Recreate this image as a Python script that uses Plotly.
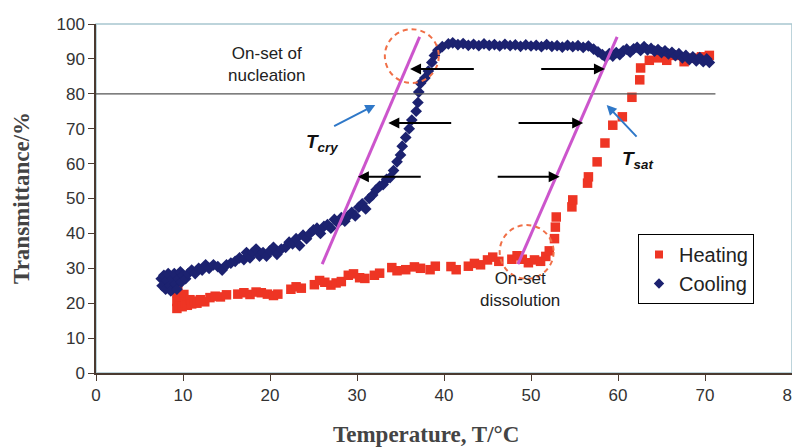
import plotly.graph_objects as go

# ---------------- data ----------------
heat_T = [9.3, 9.3, 9.3, 9.4, 9.6, 9.7, 9.9, 10.1, 10.3, 10.5, 10.8, 11.0, 11.3, 11.6, 12.0, 12.5,
          13.1, 13.7, 14.3, 15.0,
          16.3, 17.0, 17.7, 18.4, 19.0, 19.7, 20.4, 20.9,
          22.4, 23.0, 23.6,
          25.1, 25.7, 26.3, 27.0, 27.6, 28.2,
          29.0, 29.6, 30.3, 30.9, 32.0, 32.6,
          34.0, 34.6, 35.6, 36.6, 37.3, 38.4, 39.0,
          40.8, 41.4, 42.8, 43.5, 44.2, 45.0, 45.6, 46.3,
          47.8, 48.4, 49.0, 49.7, 50.4, 51.1, 51.7, 52.1,
          52.7, 52.8, 52.9, 54.7, 54.8, 56.5, 56.6, 57.6, 58.5, 59.4, 60.5, 61.6,
          62.5, 62.6, 63.6, 64.6, 65.6, 66.6, 67.6, 68.6, 69.6, 70.5]
heat_Tr = [18.5, 20.5, 23.0, 24.5, 19.2, 21.8, 19.0, 22.5, 20.2, 19.4, 21.0, 19.8, 20.6, 20.0, 21.0, 20.4,
           21.6, 22.0, 21.8, 22.4,
           22.6, 23.0, 22.5, 23.2, 23.0, 22.6, 22.2, 22.6,
           24.0, 24.7, 24.3,
           25.3, 26.5, 26.0, 25.2, 25.8, 26.2,
           28.0, 28.4, 27.3, 27.1, 28.0, 28.6,
           30.2, 29.3, 29.6, 30.4, 30.0, 29.6, 30.6,
           30.5, 29.6, 30.6, 31.4, 31.0, 32.4, 33.2, 32.0,
           32.6, 33.6, 32.6, 31.6, 32.4, 32.0, 33.4, 35.0,
           38.5, 41.8, 44.7, 47.6, 49.6, 54.4, 56.2, 60.5, 65.9, 71.0, 73.4, 79.0,
           84.0, 87.4, 89.6, 90.3, 89.6, 91.0, 89.2, 90.2, 90.6, 91.0]

cool_T = [7.5, 7.6, 7.8, 8.0, 8.1, 8.3, 8.5, 8.6, 8.8, 9.0, 9.1, 9.3, 9.5, 9.7, 9.8, 10.0,
          10.3, 10.6, 11.0, 11.4, 11.8, 12.2, 12.6, 13.0, 13.5, 14.0, 14.5, 15.0, 15.5, 16.0,
          16.5, 17.0, 17.3, 17.7, 18.0, 18.4, 18.8, 19.2, 19.6, 20.0, 20.4, 20.8, 21.3, 21.8,
          22.2, 22.6, 23.0, 23.4, 23.8, 24.2, 24.6, 25.0, 25.4, 25.8, 26.2, 26.6, 27.0, 27.4,
          27.8, 28.2, 28.6, 29.0, 29.4, 29.8, 30.2, 30.6, 31.0, 31.4, 31.8, 32.2, 32.6, 33.0,
          33.4, 33.8, 34.2, 34.6, 35.0, 35.2, 35.6, 36.0, 36.3, 36.8, 37.0, 37.1, 37.3, 37.8,
          38.2, 38.6, 38.9, 39.3, 39.8,
          40.5, 41.0, 41.6, 42.2, 42.8, 43.4, 44.0, 44.6, 45.2, 45.8, 46.4, 47.0, 47.6, 48.2,
          48.8, 49.4, 50.0, 50.6, 51.2, 51.8, 52.4, 53.0, 53.6, 54.2, 54.8, 55.4, 56.0, 56.6,
          57.2, 57.7, 58.2, 58.6, 59.0, 59.4, 59.8, 60.2, 60.6, 61.0, 61.4, 61.8, 62.2, 62.6,
          63.0, 63.4, 63.8, 64.2, 64.6, 65.0, 65.4, 65.8, 66.2, 66.6, 67.0, 67.4, 67.8, 68.2,
          68.6, 69.0, 69.4, 69.8, 70.2, 70.5]
cool_Tr = [27.0, 25.0, 28.0, 24.0, 26.5, 28.5, 25.0, 23.5, 27.0, 28.5, 25.5, 24.0, 27.0, 29.0, 26.0, 28.0,
           27.0, 28.5, 29.5, 28.5, 30.0, 29.5, 31.0, 30.0, 31.0, 30.5, 29.5, 31.0, 31.5, 32.0,
           33.0, 32.5, 34.5, 33.0, 34.5, 35.5, 33.5, 34.5, 33.5, 35.0, 36.0, 34.0, 35.5, 36.0,
           37.5, 37.0, 38.5, 36.5, 39.5, 38.5, 40.0, 41.0, 41.5, 40.0, 42.0, 42.5, 41.5, 44.0,
           43.0, 44.5, 43.5, 45.0, 46.0, 45.0, 47.5, 48.5, 47.0, 50.0, 51.0, 52.5, 53.5, 54.0,
           55.5, 56.0, 58.0, 60.5, 62.5, 65.0, 67.5, 70.0, 72.5, 75.0, 77.5, 80.5, 83.0, 84.5,
           86.5, 89.0, 91.0, 92.5, 93.5,
           94.3, 94.6, 94.1, 94.4, 93.9, 94.2, 93.8, 94.3, 93.9, 94.1, 93.7, 94.2, 93.8, 94.0,
           93.6, 94.0, 93.7, 93.9, 93.5, 94.1, 93.6, 93.8, 93.4, 93.9, 93.5, 93.8, 93.3, 93.7,
           92.8, 92.0, 91.2, 90.5, 91.5, 90.8, 91.8, 91.2, 92.3, 92.8, 91.9, 92.9, 93.3, 92.4,
           93.5, 92.6, 93.0, 92.2, 92.7, 91.8, 92.3, 91.4, 91.9, 90.9, 91.5, 90.3, 91.0, 89.8,
           90.6, 89.4, 90.4, 89.2, 90.0, 89.0]

x_ticks = [0, 10, 20, 30, 40, 50, 60, 70, 80]
y_ticks = [0, 10, 20, 30, 40, 50, 60, 70, 80, 90, 100]

# guide lines (x0, y0, x1, y1)
nucleation_level = 80
tcry_line = [26.0, 31.2, 37.2, 96.3]
tsat_line = [48.5, 31.2, 59.9, 96.3]
circles = [[36.3, 90.8], [49.5, 34.7]]
# arrows: (head_x, head_y, tail_x, tail_y)
black_arrows = [[36.1, 87.1, 43.6, 87.1], [33.6, 71.6, 41.0, 71.6], [30.1, 56.2, 37.5, 56.2],
                [58.5, 87.1, 51.0, 87.1], [56.0, 71.6, 48.4, 71.6], [53.3, 56.2, 46.0, 56.2]]
blue_arrows = [[32.1, 76.8, 27.2, 70.5], [58.7, 76.8, 62.3, 67.3]]

RED = '#EE3524'
NAVY = '#1C2270'
AX = '#4A3A30'

fig = go.Figure()
fig.add_trace(go.Scatter(x=heat_T, y=heat_Tr, mode='markers', name='Heating', showlegend=False,
                         marker=dict(symbol='square', size=9.5, color=RED)))
fig.add_trace(go.Scatter(x=cool_T, y=cool_Tr, mode='markers', name='Cooling', showlegend=False,
                         marker=dict(symbol='diamond', size=9, color=NAVY)))
# legend entries with small symbols
fig.add_trace(go.Scatter(x=[None], y=[None], mode='markers', name='Heating',
                         marker=dict(symbol='square', size=8, color=RED)))
fig.add_trace(go.Scatter(x=[None], y=[None], mode='markers', name='Cooling',
                         marker=dict(symbol='diamond', size=8, color=NAVY)))

shapes = []
shapes.append(dict(type='rect', xref='paper', yref='paper', x0=0, y0=0, x1=1, y1=1,
                   line=dict(color='#A8C6CF', width=1.5), layer='below'))
shapes.append(dict(type='line', xref='x', yref='y', x0=0, x1=71.2, y0=nucleation_level,
                   y1=nucleation_level, line=dict(color='#555555', width=1.2)))
for ln in (tcry_line, tsat_line):
    shapes.append(dict(type='line', xref='x', yref='y', x0=ln[0], y0=ln[1], x1=ln[2], y1=ln[3],
                       line=dict(color='#CC55CC', width=3)))
for cx, cy in circles:
    shapes.append(dict(type='circle', xref='x', yref='y', x0=cx - 3.1, x1=cx + 3.1,
                       y0=cy - 7.7, y1=cy + 7.7,
                       line=dict(color='#F07048', width=2, dash='5px,4px')))

ann = []
for hx, hy, tx, ty in black_arrows:
    ann.append(dict(x=hx, y=hy, ax=tx, ay=ty, xref='x', yref='y', axref='x', ayref='y',
                    text='', showarrow=True, arrowhead=2, arrowsize=1.1, arrowwidth=2,
                    arrowcolor='black'))
for hx, hy, tx, ty in blue_arrows:
    ann.append(dict(x=hx, y=hy, ax=tx, ay=ty, xref='x', yref='y', axref='x', ayref='y',
                    text='', showarrow=True, arrowhead=2, arrowsize=1, arrowwidth=2,
                    arrowcolor='#2F78C8'))
lbl_font = dict(family='Liberation Sans, Arial', size=17, color='#222222')
ann.append(dict(x=19.6, y=88.5, xref='x', yref='y', text='On-set of<br>nucleation',
                showarrow=False, font=lbl_font, align='center'))
ann.append(dict(x=48.7, y=23.8, xref='x', yref='y', text='On-set<br>dissolution',
                showarrow=False, font=lbl_font, align='center'))
ann.append(dict(x=26.0, y=66.0, xref='x', yref='y',
                text='<b><i>T<sub>cry</sub></i></b>', showarrow=False,
                font=dict(family='Liberation Sans, Arial', size=19, color='#111111')))
ann.append(dict(x=62.2, y=61.0, xref='x', yref='y',
                text='<b><i>T<sub>sat</sub></i></b>', showarrow=False,
                font=dict(family='Liberation Sans, Arial', size=19, color='#111111')))
title_font = dict(family='Liberation Serif, Times New Roman', size=23, color='#444444')

# page offset of the figure (default body margin) -> compensate
OFF = 8
PL, PR, PT, PB = 96, 792, 24, 373     # plot area in page pixels
W, H = 800 - OFF, 448 - OFF
L, T = PL - OFF, PT - OFF
R = W - (PR - OFF)
B = H - (PB - OFF)
pw, ph = PR - PL, PB - PT

def px(P):
    return (P - PL) / pw

def py(Q):
    return (PB - Q) / ph

ann.append(dict(x=px(426), y=py(434), xref='paper', yref='paper', xanchor='center',
                yanchor='middle', text='<b>Temperature, T/°C</b>', showarrow=False,
                font=title_font))
ann.append(dict(x=px(21), y=py(198), xref='paper', yref='paper', xanchor='center',
                yanchor='middle', text='<b>Transmittance/%</b>', showarrow=False,
                font=title_font, textangle=-90))

fig.update_layout(
    width=W, height=H, margin=dict(l=L, r=R, t=T, b=B, autoexpand=False),
    paper_bgcolor='white', plot_bgcolor='white',
    shapes=shapes, annotations=ann,
    showlegend=True,
    legend=dict(x=px(638), y=py(234), xanchor='left', yanchor='top',
                bordercolor='black', borderwidth=1, bgcolor='white',
                font=dict(family='Liberation Sans, Arial', size=20, color='#222222'),
                itemwidth=30, tracegroupgap=0),
    xaxis=dict(range=[0, 80], tickvals=x_ticks, showgrid=False, zeroline=False, automargin=False,
               showline=True, linecolor=AX, linewidth=1.5, ticks='outside', ticklen=6,
               ticklabeloverflow='allow',
               tickcolor=AX, tickfont=dict(family='Liberation Sans, Arial', size=17, color='#333333')),
    yaxis=dict(range=[0, 100], tickvals=y_ticks, showgrid=False, zeroline=False, automargin=False,
               showline=True, linecolor=AX, linewidth=1.5, ticks='outside', ticklen=6,
               tickcolor=AX, tickfont=dict(family='Liberation Sans, Arial', size=17, color='#333333')),
)

fig.write_html('out.html')
